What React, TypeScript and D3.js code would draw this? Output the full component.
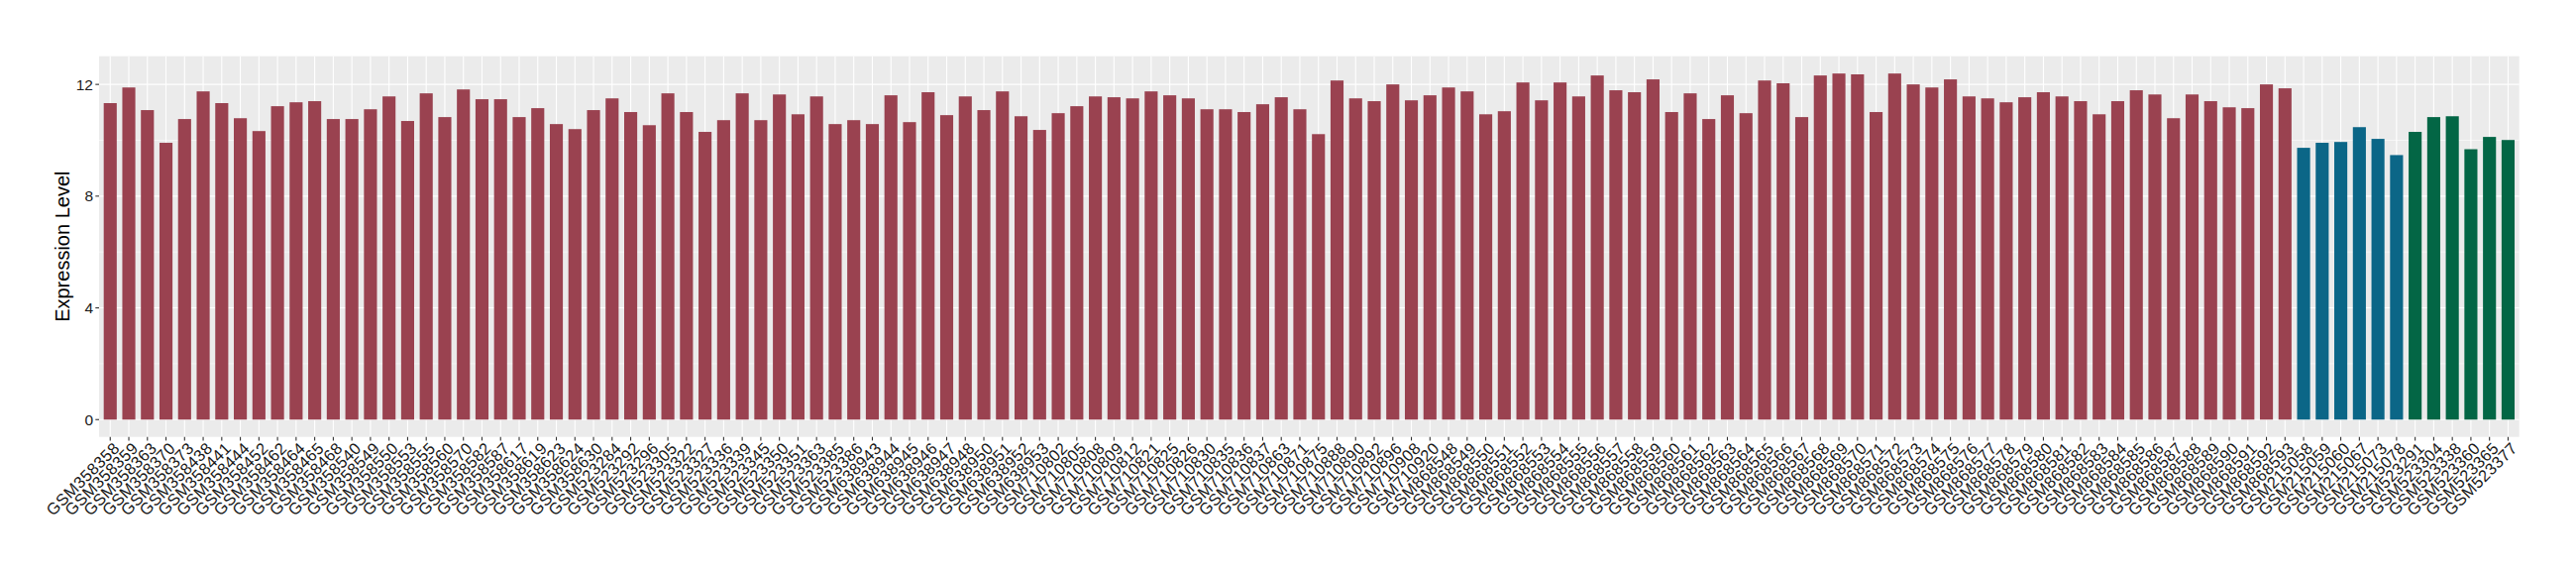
import React from "react";
import * as d3 from "d3";

const groupASamples = [
  "GSM358358","GSM358359","GSM358363","GSM358370","GSM358373","GSM358438","GSM358441","GSM358444","GSM358452","GSM358462",
  "GSM358464","GSM358465","GSM358468","GSM358540","GSM358549","GSM358550","GSM358553","GSM358555","GSM358560","GSM358570",
  "GSM358582","GSM358587","GSM358617","GSM358619","GSM358623","GSM358624","GSM358630",
  "GSM523284","GSM523292","GSM523296","GSM523305","GSM523322","GSM523327","GSM523336","GSM523339","GSM523345","GSM523350",
  "GSM523351","GSM523363","GSM523385","GSM523386",
  "GSM638943","GSM638944","GSM638945","GSM638946","GSM638947","GSM638948","GSM638950","GSM638951","GSM638952","GSM638953",
  "GSM710802","GSM710805","GSM710808","GSM710809","GSM710812","GSM710821","GSM710825","GSM710826","GSM710830","GSM710835",
  "GSM710836","GSM710837","GSM710863","GSM710871","GSM710875","GSM710888","GSM710890","GSM710892","GSM710896","GSM710908","GSM710920",
  "GSM868548","GSM868549","GSM868550","GSM868551","GSM868552","GSM868553","GSM868554","GSM868555","GSM868556","GSM868557",
  "GSM868558","GSM868559","GSM868560","GSM868561","GSM868562","GSM868563","GSM868564","GSM868565","GSM868566","GSM868567",
  "GSM868568","GSM868569","GSM868570","GSM868571","GSM868572","GSM868573","GSM868574","GSM868575","GSM868576","GSM868577",
  "GSM868578","GSM868579","GSM868580","GSM868581","GSM868582","GSM868583","GSM868584","GSM868585","GSM868586","GSM868587",
  "GSM868588","GSM868589","GSM868590","GSM868591","GSM868592","GSM868593",
];
const groupAValues = [
  11.33, 11.89, 11.08, 9.91, 10.76, 11.75, 11.33, 10.79, 10.33, 11.22, 11.36, 11.40, 10.76, 10.76, 11.11, 11.57, 10.69, 11.68, 10.83, 11.82,
  11.47, 11.47, 10.83, 11.15, 10.58, 10.40,
  11.08, 11.50, 11.01, 10.54, 11.68, 11.01, 10.30, 10.72, 11.68, 10.72, 11.64, 10.93, 11.57, 10.58, 10.72, 10.58, 11.61, 10.65, 11.72, 10.90,
  11.57, 11.08, 11.75, 10.86, 10.37, 10.97,
  11.22, 11.57, 11.54, 11.50, 11.75, 11.61, 11.50, 11.11, 11.11, 11.01, 11.29, 11.54, 11.11, 10.22, 12.14, 11.50, 11.40, 12.00, 11.43, 11.61,
  11.89, 11.75, 10.93, 11.04, 12.07, 11.43,
  12.07, 11.57, 12.32, 11.79, 11.72, 12.18, 11.01, 11.68, 10.76, 11.61, 10.97, 12.14, 12.04, 10.83, 12.32, 12.39, 12.36, 11.01, 12.39, 12.00,
  11.89, 12.18, 11.57, 11.50, 11.36, 11.54,
  11.72, 11.57, 11.40, 10.93, 11.40, 11.79, 11.64, 10.79, 11.64, 11.40, 11.18, 11.15, 12.00, 11.86,
];

const groupBSamples = ["GSM215058","GSM215059","GSM215060","GSM215067","GSM215073","GSM215078"];
const groupBValues = [9.73, 9.91, 9.94, 10.47, 10.05, 9.47];

const groupCSamples = ["GSM523291","GSM523304","GSM523338","GSM523360","GSM523365","GSM523377"];
const groupCValues = [10.30, 10.83, 10.86, 9.68, 10.12, 10.01];

const groupColors = ["#9A4250", "#0B6687", "#036645"];
const yMajorTicks = [0, 4, 8, 12];
const yMinorTicks = [2, 6, 10];
const yTitle = "Expression Level";

export default function App() {
  const W = 2600, H = 580;
  const left = 100, right = 2542.7, top = 56.7, bottom = 440.7;

  const data = [
    ...groupASamples.map((s, i) => ({ s, v: groupAValues[i], g: 0 })),
    ...groupBSamples.map((s, i) => ({ s, v: groupBValues[i], g: 1 })),
    ...groupCSamples.map((s, i) => ({ s, v: groupCValues[i], g: 2 })),
  ];
  const maxV = d3.max(data, (d) => d.v) as number;

  const x = d3
    .scaleBand<string>()
    .domain(data.map((d) => d.s))
    .range([left, right])
    .paddingInner(0.3)
    .paddingOuter(0.25);
  const y = d3.scaleLinear().domain([-0.05 * maxV, 1.05 * maxV]).range([bottom, top]);

  const font = "'Liberation Sans', Arial, Helvetica, sans-serif";
  const bw = x.bandwidth();

  return (
    <svg width={W} height={H} style={{ position: "absolute", left: 0, top: 0 }} fontFamily={font}>
      <rect x={0} y={0} width={W} height={H} fill="#fff" />
      <rect x={left} y={top} width={right - left} height={bottom - top} fill="#EBEBEB" />
      {yMinorTicks.map((t) => (
        <line key={"mn" + t} x1={left} x2={right} y1={y(t)} y2={y(t)} stroke="#fff" strokeWidth={0.55} />
      ))}
      {yMajorTicks.map((t) => (
        <line key={"mj" + t} x1={left} x2={right} y1={y(t)} y2={y(t)} stroke="#fff" strokeWidth={1.1} />
      ))}
      {data.map((d) => (
        <line
          key={"vg" + d.s}
          x1={(x(d.s) as number) + bw / 2}
          x2={(x(d.s) as number) + bw / 2}
          y1={top}
          y2={bottom}
          stroke="#fff"
          strokeWidth={1.1}
        />
      ))}
      {data.map((d) => (
        <rect
          key={"b" + d.s}
          x={x(d.s) as number}
          y={y(d.v)}
          width={bw}
          height={y(0) - y(d.v)}
          fill={groupColors[d.g]}
        />
      ))}
      {yMajorTicks.map((t) => (
        <g key={"yt" + t}>
          <line x1={left - 3.7} x2={left} y1={y(t)} y2={y(t)} stroke="#333" strokeWidth={1.1} />
          <text x={left - 6} y={y(t)} dy="0.36em" textAnchor="end" fontSize={15.5} fill="#1a1a1a">
            {t}
          </text>
        </g>
      ))}
      {data.map((d) => {
        const cx = (x(d.s) as number) + bw / 2;
        return (
          <g key={"xt" + d.s}>
            <line x1={cx} x2={cx} y1={bottom} y2={bottom + 3.7} stroke="#333" strokeWidth={1.1} />
            <text
              transform={`translate(${cx + 2},${bottom + 4}) rotate(-45)`}
              textAnchor="end"
              dy="0.72em"
              fontSize={16.5}
              letterSpacing={0.4}
              fill="#1a1a1a"
            >
              {d.s}
            </text>
          </g>
        );
      })}
      <text
        transform={`translate(69.5,${(top + bottom) / 2}) rotate(-90)`}
        textAnchor="middle"
        fontSize={20}
        fill="#000"
      >
        {yTitle}
      </text>
    </svg>
  );
}
